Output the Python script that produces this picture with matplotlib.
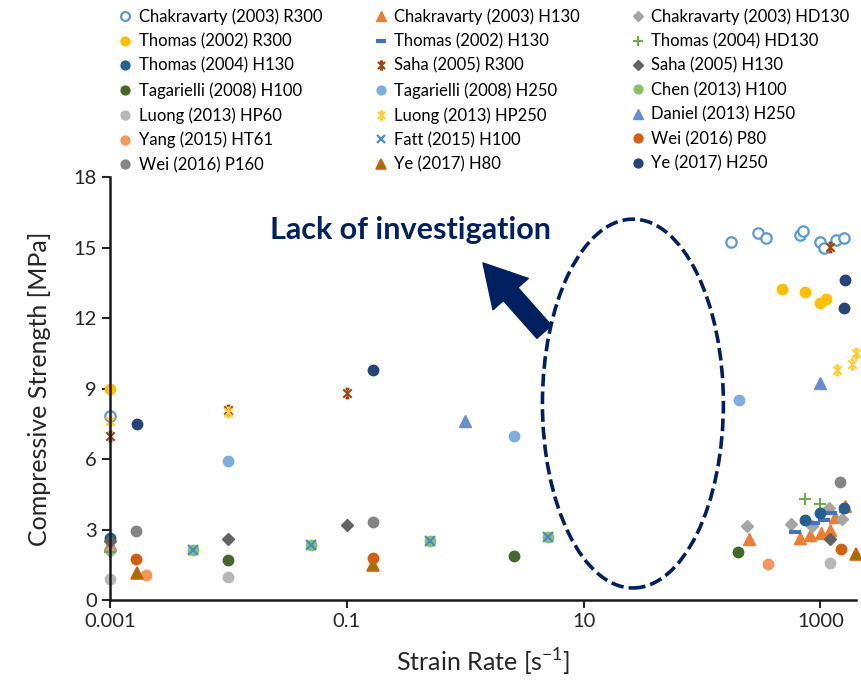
import matplotlib.pyplot as plt
from matplotlib.path import Path
from matplotlib.patches import Ellipse
from matplotlib.ticker import FixedLocator, NullLocator

plt.rcParams['font.family'] = ['Lato', 'DejaVu Sans']

# data (strain rate [1/s], strength [MPa])
chak_r300_x = [0.001, 175, 298, 351, 679, 715, 1000, 1069, 1368, 1574]
chak_r300_y = [7.83, 15.22, 15.64, 15.42, 15.53, 15.72, 15.22, 14.99, 15.32, 15.42]
chak_h130_x = [0.001, 249, 667, 826, 1015, 1200, 1330, 1630]
chak_h130_y = [2.40, 2.58, 2.62, 2.77, 2.87, 2.98, 3.55, 4.00]
chak_hd130_x = [0.001, 241, 560, 851, 1190, 1524]
chak_hd130_y = [2.10, 3.15, 3.22, 3.15, 3.92, 3.45]
thomas02_r300_x = [0.001, 470, 748, 988, 1125]
thomas02_r300_y = [9.00, 13.22, 13.12, 12.62, 12.81]
thomas02_h130_x = [617, 880, 1069, 1230]
thomas02_h130_y = [2.88, 3.29, 3.40, 3.69]
thomas04_hd130_x = [0.001, 748, 1000]
thomas04_hd130_y = [2.05, 4.30, 4.10]
thomas04_h130_x = [0.001, 748, 988, 1600]
thomas04_h130_y = [2.62, 3.40, 3.69, 3.90]
saha_r300_x = [0.001, 0.01, 0.1, 1200]
saha_r300_y = [7.00, 8.10, 8.80, 15.03]
saha_h130_x = [0.001, 0.01, 0.1, 1200]
saha_h130_y = [2.50, 2.60, 3.20, 2.60]
tag_h100_x = [0.01, 2.6, 202]
tag_h100_y = [1.72, 1.87, 2.03]
tag_h250_x = [0.01, 2.6, 205]
tag_h250_y = [5.90, 7.00, 8.50]
chen_h100_x = [0.005, 0.05, 0.5, 5.0]
chen_h100_y = [2.13, 2.34, 2.51, 2.67]
luong_hp60_x = [0.001, 0.01, 1200]
luong_hp60_y = [0.90, 1.00, 1.56]
luong_hp250_x = [0.001, 0.01, 1385, 1852, 2000]
luong_hp250_y = [7.63, 8.00, 9.79, 10.03, 10.52]
daniel_h250_x = [1.0, 1000]
daniel_h250_y = [7.60, 9.22]
yang_ht61_x = [0.002, 362]
yang_ht61_y = [1.06, 1.53]
fatt_h100_x = [0.005, 0.05, 0.5, 5.0]
fatt_h100_y = [2.13, 2.34, 2.51, 2.67]
wei_p80_x = [0.00165, 0.166, 1500]
wei_p80_y = [1.73, 1.80, 2.16]
wei_p160_x = [0.00165, 0.166, 1476]
wei_p160_y = [2.95, 3.30, 5.02]
ye_h80_x = [0.00168, 0.166, 2000]
ye_h80_y = [1.16, 1.50, 1.96]
ye_h250_x = [0.00168, 0.166, 1606, 1600]
ye_h250_y = [7.50, 9.80, 13.62, 12.44]

labels = [
    "Chakravarty (2003) R300", "Chakravarty (2003) H130", "Chakravarty (2003) HD130",
    "Thomas (2002) R300", "Thomas (2002) H130", "Thomas (2004) HD130",
    "Thomas (2004) H130", "Saha (2005) R300", "Saha (2005) H130",
    "Tagarielli (2008) H100", "Tagarielli (2008) H250", "Chen (2013) H100",
    "Luong (2013) HP60", "Luong (2013) HP250", "Daniel (2013) H250",
    "Yang (2015) HT61", "Fatt (2015) H100", "Wei (2016) P80",
    "Wei (2016) P160", "Ye (2017) H80", "Ye (2017) H250",
]
xs = [chak_r300_x, chak_h130_x, chak_hd130_x, thomas02_r300_x, thomas02_h130_x,
      thomas04_hd130_x, thomas04_h130_x, saha_r300_x, saha_h130_x, tag_h100_x,
      tag_h250_x, chen_h100_x, luong_hp60_x, luong_hp250_x, daniel_h250_x,
      yang_ht61_x, fatt_h100_x, wei_p80_x, wei_p160_x, ye_h80_x, ye_h250_x]
ys = [chak_r300_y, chak_h130_y, chak_hd130_y, thomas02_r300_y, thomas02_h130_y,
      thomas04_hd130_y, thomas04_h130_y, saha_r300_y, saha_h130_y, tag_h100_y,
      tag_h250_y, chen_h100_y, luong_hp60_y, luong_hp250_y, daniel_h250_y,
      yang_ht61_y, fatt_h100_y, wei_p80_y, wei_p160_y, ye_h80_y, ye_h250_y]

# excel-like "star" marker: an x with a vertical bar
star = Path(
    [(-1, -1), (1, 1), (-1, 1), (1, -1), (0, -1.15), (0, 1.15),
     (-0.45, 1.15), (0.45, 1.15), (-0.45, -1.15), (0.45, -1.15)],
    [Path.MOVETO, Path.LINETO] * 5,
)

styles = [
    dict(marker="o", mfc="white", mec="#5B9BD5", mew=1.6, ms=7.5),
    dict(marker="^", color="#ED7D31", ms=8),
    dict(marker="D", color="#A5A5A5", ms=6),
    dict(marker="o", color="#FFC000", ms=7.5),
    dict(marker="_", color="#4472C4", mew=3, ms=9),
    dict(marker="+", color="#70AD47", mew=1.5, ms=8),
    dict(marker="o", color="#255E91", ms=7.5),
    dict(marker=star, color="#9E480E", mew=1.5, ms=7),
    dict(marker="D", color="#636363", ms=6),
    dict(marker="o", color="#43682B", ms=7.5),
    dict(marker="o", color="#7CAFDD", ms=7.5),
    dict(marker="o", color="#8CC168", ms=7.5),
    dict(marker="o", color="#B7B7B7", ms=7.5),
    dict(marker=star, color="#FFCD33", mew=1.5, ms=7),
    dict(marker="^", color="#698ED0", ms=8),
    dict(marker="o", color="#F1975A", ms=7.5),
    dict(marker="x", color="#4A8BD0", mew=1.6, ms=7),
    dict(marker="o", color="#D26012", ms=7.5),
    dict(marker="o", color="#848484", ms=7.5),
    dict(marker="^", mfc="#997300", mec="#D26012", mew=1.2, ms=8),
    dict(marker="o", color="#264478", ms=7.5),
]

fig = plt.figure(figsize=(8.62, 6.81), dpi=100)
ax = fig.add_axes([0.1276, 0.1189, 0.8654, 0.6211])

handles = []
for x, y, lab, st in zip(xs, ys, labels, styles):
    h, = ax.plot(x, y, linestyle="none", label=lab, clip_on=False, **st)
    handles.append(h)

ax.set_xscale("log")
ax.set_xlim(0.001, 2000)
ax.set_ylim(0, 18)
ax.xaxis.set_major_locator(FixedLocator([0.001, 0.1, 10, 1000]))
ax.xaxis.set_minor_locator(NullLocator())
ax.set_xticklabels(["0.001", "0.1", "10", "1000"])
ax.set_yticks(range(0, 19, 3))
ax.tick_params(labelsize=14.5, colors="#262626", width=1.5, length=6)

for s in ["top", "right"]:
    ax.spines[s].set_visible(False)
for s in ["left", "bottom"]:
    ax.spines[s].set_linewidth(1.8)
    ax.spines[s].set_color("#1a1a1a")

ax.set_xlabel("Strain Rate [s$^{\\mathregular{-1}}$]", fontsize=18, color="#262626", labelpad=12)
ax.set_ylabel("Compressive Strength [MPa]", fontsize=18, color="#262626", labelpad=16)

# annotation: gap in the intermediate strain-rate range
navy = "#002060"
ax.add_patch(Ellipse((0.701, 0.4645), 0.2426, 0.872, transform=ax.transAxes,
                     fill=False, edgecolor=navy, linewidth=2.6,
                     linestyle=(0, (3.5, 1.4)), clip_on=False))
ax.annotate("", xy=(0.50, 0.797), xytext=(0.582, 0.634), xycoords="axes fraction",
            arrowprops=dict(arrowstyle="simple,head_length=1.5,head_width=1.7,tail_width=0.7",
                            color=navy, mutation_scale=20, shrinkA=0, shrinkB=0))
ax.text(0.403, 0.853, "Lack of investigation", transform=ax.transAxes,
        fontsize=22, fontweight="bold", color=navy, ha="center", va="baseline")

# legend is filled column-wise, so reorder to read row by row
order = [r * 3 + c for c in range(3) for r in range(7)]
fig.legend([handles[i] for i in order], [labels[i] for i in order],
           ncol=3, loc="upper left", bbox_to_anchor=(0.13, 1.0), frameon=False,
           fontsize=12, handlelength=0.6, handletextpad=0.5, columnspacing=3.2,
           labelspacing=0.5, borderaxespad=0.1, markerscale=0.85)

fig.savefig("out.png", dpi=100)
